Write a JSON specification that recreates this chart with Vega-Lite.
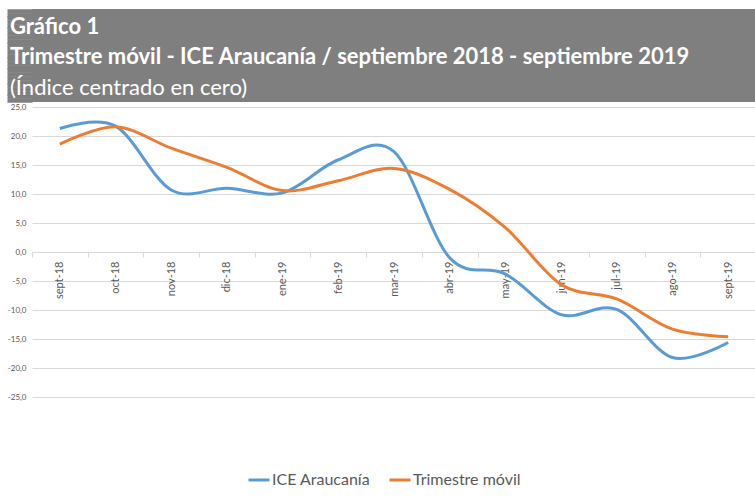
{
  "$schema": "https://vega.github.io/schema/vega-lite/v6.json",
  "padding": {"left": 4, "top": 8, "right": 0, "bottom": 0},
  "background": "white",
  "spacing": 0,
  "config": {"view": {"stroke": null}, "font": "Lato"},
  "vconcat": [
    {
      "width": 724,
      "height": 93,
      "view": {"fill": "#7f7f7f", "stroke": null},
      "data": {"values": [{}]},
      "mark": {"type": "rect", "color": "#7f7f7f"},
      "encoding": {
        "y": {
          "datum": 0,
          "type": "quantitative",
          "scale": {"domain": [0, 1], "nice": false},
          "axis": {
            "title": null,
            "values": [0.02, 0.06, 0.1, 0.14, 0.18, 0.22, 0.26, 0.3, 0.34, 0.38, 0.42, 0.46, 0.5, 0.54, 0.58, 0.62, 0.66, 0.7, 0.74, 0.78, 0.82, 0.86, 0.9, 0.94, 0.98],
            "labels": false,
            "domain": false,
            "grid": false,
            "tickSize": 25,
            "tickWidth": 4.5,
            "tickColor": "#7f7f7f",
            "tickCap": "butt",
            "minExtent": 27,
            "maxExtent": 27
          }
        },
        "y2": {"datum": 1}
      },
      "title": {
        "text": ["Gráfico 1", "Trimestre móvil - ICE Araucanía / septiembre 2018 - septiembre 2019"],
        "subtitle": "(Índice centrado en cero)",
        "anchor": "start",
        "frame": "group",
        "orient": "top",
        "offset": -91,
        "dx": -22,
        "font": "Lato",
        "fontSize": 22,
        "fontWeight": "bold",
        "color": "white",
        "lineHeight": 30,
        "subtitleFont": "Lato",
        "subtitleFontSize": 22,
        "subtitleFontWeight": "normal",
        "subtitleColor": "white",
        "subtitlePadding": 9
      }
    },
    {
      "width": 724,
      "height": 290,
      "data": {
        "values": [
          {"mes": "sept-18", "serie": "ICE Araucanía", "valor": 21.3},
          {"mes": "oct-18", "serie": "ICE Araucanía", "valor": 21.7},
          {"mes": "nov-18", "serie": "ICE Araucanía", "valor": 10.7},
          {"mes": "dic-18", "serie": "ICE Araucanía", "valor": 11.0},
          {"mes": "ene-19", "serie": "ICE Araucanía", "valor": 10.2},
          {"mes": "feb-19", "serie": "ICE Araucanía", "valor": 15.9},
          {"mes": "mar-19", "serie": "ICE Araucanía", "valor": 17.3},
          {"mes": "abr-19", "serie": "ICE Araucanía", "valor": -1.0},
          {"mes": "may-19", "serie": "ICE Araucanía", "valor": -3.8},
          {"mes": "jun-19", "serie": "ICE Araucanía", "valor": -10.8},
          {"mes": "jul-19", "serie": "ICE Araucanía", "valor": -9.9},
          {"mes": "ago-19", "serie": "ICE Araucanía", "valor": -18.2},
          {"mes": "sept-19", "serie": "ICE Araucanía", "valor": -15.6},
          {"mes": "sept-18", "serie": "Trimestre móvil", "valor": 18.6},
          {"mes": "oct-18", "serie": "Trimestre móvil", "valor": 21.6},
          {"mes": "nov-18", "serie": "Trimestre móvil", "valor": 17.9},
          {"mes": "dic-18", "serie": "Trimestre móvil", "valor": 14.6},
          {"mes": "ene-19", "serie": "Trimestre móvil", "valor": 10.6},
          {"mes": "feb-19", "serie": "Trimestre móvil", "valor": 12.3},
          {"mes": "mar-19", "serie": "Trimestre móvil", "valor": 14.4},
          {"mes": "abr-19", "serie": "Trimestre móvil", "valor": 10.8},
          {"mes": "may-19", "serie": "Trimestre móvil", "valor": 4.2},
          {"mes": "jun-19", "serie": "Trimestre móvil", "valor": -5.6},
          {"mes": "jul-19", "serie": "Trimestre móvil", "valor": -8.1},
          {"mes": "ago-19", "serie": "Trimestre móvil", "valor": -13.3},
          {"mes": "sept-19", "serie": "Trimestre móvil", "valor": -14.6}
        ]
      },
      "mark": {"type": "line", "interpolate": "cardinal", "tension": 0, "strokeWidth": 3},
      "encoding": {
        "x": {
          "field": "mes",
          "type": "ordinal",
          "sort": ["sept-18", "oct-18", "nov-18", "dic-18", "ene-19", "feb-19", "mar-19", "abr-19", "may-19", "jun-19", "jul-19", "ago-19", "sept-19"],
          "bandPosition": 0.5,
          "scale": {"type": "band", "paddingInner": 0, "paddingOuter": 0},
          "axis": {
            "title": null,
            "labelAngle": 270,
            "offset": -145,
            "tickBand": "extent",
            "domainColor": "#d9d9d9",
            "tickColor": "#d9d9d9",
            "tickSize": 5,
            "labelFontSize": 11,
            "labelColor": "#595959",
            "labelPadding": 4,
            "grid": false
          }
        },
        "y": {
          "field": "valor",
          "type": "quantitative",
          "scale": {"domain": [-25, 25], "nice": false},
          "axis": {
            "title": null,
            "values": [-25, -20, -15, -10, -5, 0, 5, 10, 15, 20, 25],
            "grid": true,
            "gridColor": "#d9d9d9",
            "domain": false,
            "ticks": false,
            "labelFontSize": 8,
            "labelColor": "#595959",
            "labelPadding": 6,
            "minExtent": 27,
            "labelExpr": "replace(replace(format(datum.value, '.1f'), '.', ','), '\u2212', '-')"
          }
        },
        "color": {
          "field": "serie",
          "type": "nominal",
          "scale": {"domain": ["ICE Araucanía", "Trimestre móvil"], "range": ["#5b9bd5", "#ed7d31"]},
          "legend": {
            "title": null,
            "orient": "none",
            "legendX": 215,
            "legendY": 459,
            "direction": "horizontal",
            "symbolType": "stroke",
            "symbolSize": 441,
            "symbolStrokeWidth": 3,
            "labelFontSize": 16,
            "labelColor": "#595959",
            "columnPadding": 12,
            "labelOffset": 1
          }
        }
      }
    }
  ]
}
